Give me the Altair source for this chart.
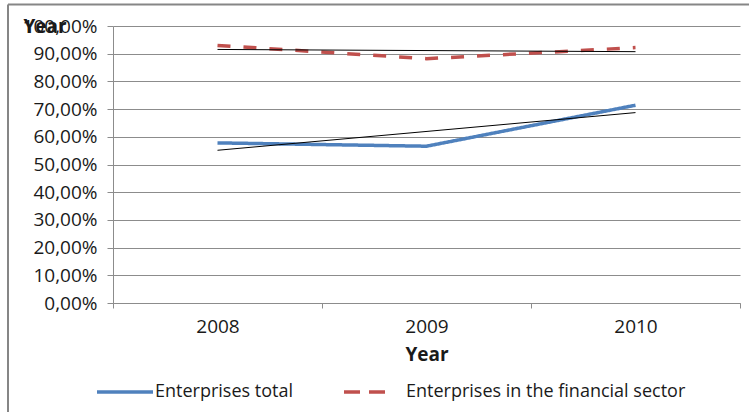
import altair as alt
import pandas as pd

# Share of enterprises, by year
years = ["2008", "2009", "2010"]
year_nums = [2008, 2009, 2010]
series_names = ["Enterprises total", "Enterprises in the financial sector"]
total = [0.578, 0.566, 0.714]
financial = [0.930, 0.882, 0.922]
y_ticks = [0.0, 0.1, 0.2, 0.3, 0.4, 0.5, 0.6, 0.7, 0.8, 0.9, 1.0]

colors = ["#4f81bd", "#c0504d"]
dashes = [[1, 0], [13, 13]]

rows = []
for name, vals in zip(series_names, [total, financial]):
    for y, yn, v in zip(years, year_nums, vals):
        rows.append({"year": y, "year_num": yn, "series": name, "value": v})
df = pd.DataFrame(rows)

FONT = "Open Sans"
GRID = "#8c8c8c"
TEXT = "#1a1a1a"

y_enc = alt.Y(
    "value:Q",
    scale=alt.Scale(domain=[0, 1], nice=False, zero=True),
    axis=alt.Axis(
        values=y_ticks,
        labelExpr="replace(format(datum.value, '.2%'), '.', ',')",
        grid=True, gridColor=GRID, gridWidth=1,
        domainColor=GRID, tickColor=GRID, tickSize=6,
        labelFont=FONT, labelFontSize=19, labelColor=TEXT, labelPadding=10,
        title="Year", titleAngle=0, titleAlign="left", titleBaseline="middle",
        titleX=-90, titleY=0, titleFont=FONT, titleFontSize=19,
        titleFontWeight="bold", titleColor=TEXT,
    ),
)

color_enc = alt.Color("series:N", scale=alt.Scale(domain=series_names, range=colors), legend=None)
dash_enc = alt.StrokeDash("series:N", scale=alt.Scale(domain=series_names, range=dashes), legend=None)

lines = alt.Chart(df).mark_line(strokeWidth=3.5, strokeCap="butt").encode(
    x=alt.X(
        "year:N",
        scale=alt.Scale(type="band", domain=years, paddingInner=0, paddingOuter=0),
        axis=alt.Axis(
            tickBand="extent", labelAngle=0, domainColor=GRID, tickColor=GRID, tickSize=5,
            labelFont=FONT, labelFontSize=19, labelColor=TEXT, labelPadding=9,
            title="Year", titleFont=FONT, titleFontSize=19, titleFontWeight="bold",
            titleColor=TEXT, titlePadding=9,
        ),
    ),
    y=y_enc,
    color=color_enc,
    strokeDash=dash_enc,
)

# Linear trend line for each series
trends = alt.Chart(df).transform_regression(
    "year_num", "value", groupby=["series"]
).mark_line(color="#000000", strokeWidth=1).encode(
    x=alt.X("year_num:Q", scale=alt.Scale(domain=[2007.5, 2010.5], nice=False, zero=False), axis=None),
    y=y_enc,
    detail="series:N",
)

one = pd.DataFrame({"k": [0]})

# Outer chart border: only its left and top edges fall inside the page
frame_left = alt.Chart(one).mark_rule(color="#868686", strokeWidth=2).encode(
    x=alt.value(-105), y=alt.value(-21.5), y2=alt.value(386)
)
frame_top = alt.Chart(one).mark_rule(color="#868686", strokeWidth=2).encode(
    x=alt.value(-105), x2=alt.value(636), y=alt.value(-21.5)
)

leg_y = 366
leg_total_line = alt.Chart(one).mark_rule(color=colors[0], strokeWidth=3.5).encode(
    x=alt.value(-16), x2=alt.value(40), y=alt.value(leg_y)
)
leg_total_text = alt.Chart(one).mark_text(
    align="left", baseline="middle", font=FONT, fontSize=18, color=TEXT
).encode(x=alt.value(42), y=alt.value(leg_y), text=alt.value(series_names[0]))
leg_fin_line = alt.Chart(one).mark_rule(
    color=colors[1], strokeWidth=3.5, strokeDash=[16, 9], strokeCap="butt"
).encode(x=alt.value(231), x2=alt.value(275), y=alt.value(leg_y))
leg_fin_text = alt.Chart(one).mark_text(
    align="left", baseline="middle", font=FONT, fontSize=18, color=TEXT
).encode(x=alt.value(293), y=alt.value(leg_y), text=alt.value(series_names[1]))

chart = alt.layer(
    frame_left, frame_top, lines, trends,
    leg_total_line, leg_total_text, leg_fin_line, leg_fin_text,
).resolve_scale(x="independent").properties(
    width=627,
    height=277,
    padding={"left": 113, "top": 26, "right": 12, "bottom": 112},
    autosize=alt.AutoSizeParams(type="none"),
    background="white",
).configure_view(stroke=None)

chart.save("out.html", embed_options={"renderer": "svg", "actions": False})
